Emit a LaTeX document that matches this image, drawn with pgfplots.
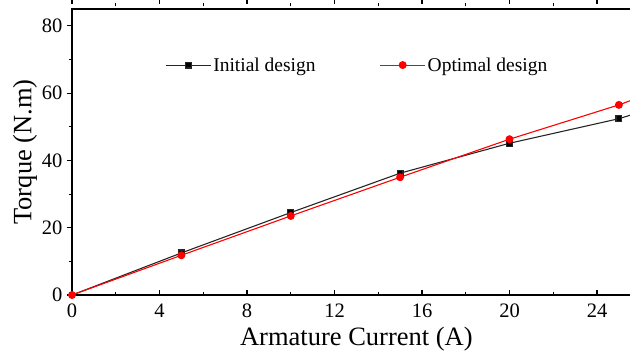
\documentclass[border=0pt]{standalone}
\usepackage{fontspec}
\setmainfont{Liberation Serif}
\usepackage{pgfplots}
\pgfplotsset{compat=1.18}
\begin{document}
\begin{tikzpicture}
\begin{axis}[
  scale only axis,
  width=568.75bp, height=286bp,
  xmin=0, xmax=26, ymin=0, ymax=85,
  xtick={0,4,8,12,16,20,24},
  ytick={0,20,40,60,80},
  minor x tick num=1,
  minor y tick num=1,
  axis line style={line width=1.4bp},
  tick style={line width=1.1bp, black},
  tick align=outside,
  major tick length=5bp,
  minor tick length=3bp,
  major x tick style={yshift=5bp},
  minor x tick style={yshift=3bp},
  /pgf/number format/assume math mode=true,
  tick label style={font=\fontsize{20.5bp}{22bp}\selectfont},
  xticklabel style={yshift=0bp},
  yticklabel style={xshift=-1bp},
  label style={font=\fontsize{26.5bp}{28bp}\selectfont},
  xlabel={Armature Current (A)},
  ylabel={Torque (N.m)},
  xlabel style={yshift=-3bp},
  ylabel style={yshift=-2bp},
  clip=true,
  legend columns=2,
  legend style={draw=none, fill=none, at={(0.1635,0.804)}, anchor=west,
    font=\fontsize{19.5bp}{21bp}\selectfont, inner sep=0pt,
    /tikz/every even column/.append style={column sep=62bp}},
  legend image code/.code={\draw[mark repeat=2,mark phase=2,#1] plot coordinates {(0bp,0bp) (22.5bp,0bp) (45bp,0bp)};},
]
\addplot[color=black!85, line width=1.1bp, mark=square*, mark size=2.9bp, mark options={fill=black}]
  coordinates {(0,0) (5,12.5) (10,24.5) (15,36.2) (20,45.1) (25,52.4) (30,62.4)};
\addlegendentry{Initial design}
\addplot[color=red, line width=1.1bp, mark=*, mark size=3.4bp]
  coordinates {(0,0) (5,11.8) (10,23.5) (15,35.0) (20,46.3) (25,56.5) (30,68.5)};
\addlegendentry{Optimal design}
\end{axis}
\pgfresetboundingbox
\path[use as bounding box] (-72bp,-58bp) rectangle (558bp,295bp);
\end{tikzpicture}
\end{document}
